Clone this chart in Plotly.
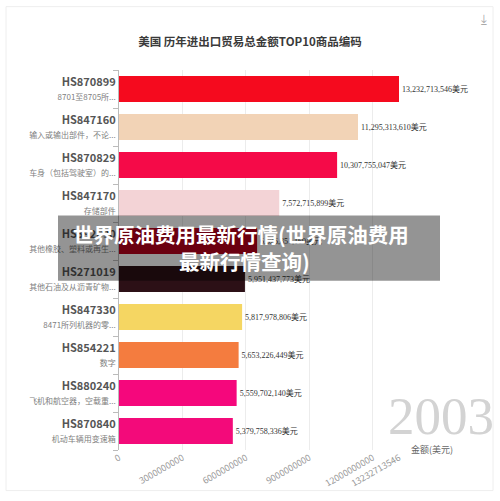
import plotly.graph_objects as go

codes = ["HS870899", "HS847160", "HS870829", "HS847170", "HS392690",
         "HS271019", "HS847330", "HS854221", "HS880240", "HS870840"]
descs = ["8701至8705所...", "输入或输出部件，不论...", "车身（包括驾驶室）的...", "存储部件",
         "其他橡胶、塑料或再生...", "其他石油及从沥青矿物...", "8471所列机器的零...", "数字",
         "飞机和航空器，空载重...", "机动车辆用变速箱"]
values = [13232713546, 11295313610, 10307755047, 7572715899, 6526851169,
          5951437773, 5817978806, 5653226449, 5559702140, 5379758336]
colors = ["#f50a1e", "#f2d3b6", "#f50a48", "#f3d3d6", "#b8001c",
          "#2c1016", "#f5d662", "#f47c3f", "#f5077c", "#f30a7a"]
xtick_vals = [0, 3000000000, 6000000000, 9000000000, 12000000000, 13232713546]
xtick_text = ["0", "3000000000", "6000000000", "9000000000", "12000000000", "13232713546"]

title = "美国 历年进出口贸易总金额TOP10商品编码"
banner_lines = ["世界原油费用最新行情(世界原油费用", "最新行情查询)"]
year = "2003"
axis_name = "金额(美元)"

W, H = 500, 501
L, R, T, B = 119, 101, 70, 47
pw, ph = W - L - R, H - T - B

def px(x):
    return (x - L) / pw

def py(y):
    return 1 - (y - T) / ph

ticktext = [f"<b>{c}</b><br><span style='font-size:8px;color:#808080'>{d}</span>"
            for c, d in zip(codes, descs)]
labels = [f"{v:,}美元" for v in values]

fig = go.Figure(go.Bar(
    x=values, y=codes, orientation="h",
    marker=dict(color=colors, line=dict(width=0)),
    text=labels, textposition="outside", cliponaxis=False,
    textfont=dict(size=8, color="#333", family="Liberation Serif, Noto Sans CJK SC"),
    hoverinfo="skip",
))

fig.update_layout(
    width=W, height=H, margin=dict(l=L, r=R, t=T, b=B),
    paper_bgcolor="white", plot_bgcolor="white",
    bargap=0.31, showlegend=False,
    font=dict(family="Noto Sans CJK SC", color="#555"),
    title=dict(text=f"<b>{title}</b>", x=0.5, xanchor="center", y=1 - 42 / H, yanchor="middle",
               font=dict(size=11.5, color="#3a3a3a")),
    xaxis=dict(range=[0, values[0]], tickvals=xtick_vals, ticktext=xtick_text,
               tickangle=-30, tickfont=dict(size=9, color="#999"),
               showgrid=True, gridcolor="#ececec", gridwidth=1,
               zeroline=False, showline=False, ticks=""),
    yaxis=dict(tickvals=codes, ticktext=ticktext, autorange="reversed",
               tickfont=dict(size=11, color="#555"),
               showline=True, linecolor="#bbb", linewidth=1,
               ticks="outside", tickson="boundaries", ticklen=5, tickcolor="#bbb",
               showgrid=False),
)

shapes = [
    dict(type="rect", xref="paper", yref="paper", x0=px(6), x1=px(493), y0=py(495), y1=py(6),
         line=dict(color="#eeeeee", width=1), fillcolor="rgba(0,0,0,0)", layer="below"),
    dict(type="rect", xref="paper", yref="paper", x0=px(58), x1=px(440), y0=py(283), y1=py(217),
         line=dict(width=0), fillcolor="rgba(0,0,0,0.42)", layer="above"),
]
fig.update_layout(shapes=shapes)

ann = [
    dict(text=year, xref="paper", yref="paper", x=px(441), y=py(420), xanchor="center", yanchor="middle",
         showarrow=False, font=dict(size=53, color="#d3d3d3", family="Liberation Serif")),
    dict(text=axis_name, xref="paper", yref="paper", x=px(432), y=py(453), xanchor="center", yanchor="middle",
         showarrow=False, font=dict(size=9, color="#666")),
    dict(text=f"<b>{banner_lines[0]}</b>", xref="paper", yref="paper", x=px(241), y=py(236),
         xanchor="center", yanchor="middle", showarrow=False,
         font=dict(size=20.5, color="white", family="Noto Sans CJK SC")),
    dict(text=f"<b>{banner_lines[1]}</b>", xref="paper", yref="paper", x=px(244), y=py(263),
         xanchor="center", yanchor="middle", showarrow=False,
         font=dict(size=20.5, color="white", family="Noto Sans CJK SC")),
    dict(text="⤓", xref="paper", yref="paper", x=px(484), y=py(18), xanchor="center", yanchor="middle",
         showarrow=False, font=dict(size=13, color="#aaa")),
]
fig.update_layout(annotations=ann)

fig.write_html("out.html")
